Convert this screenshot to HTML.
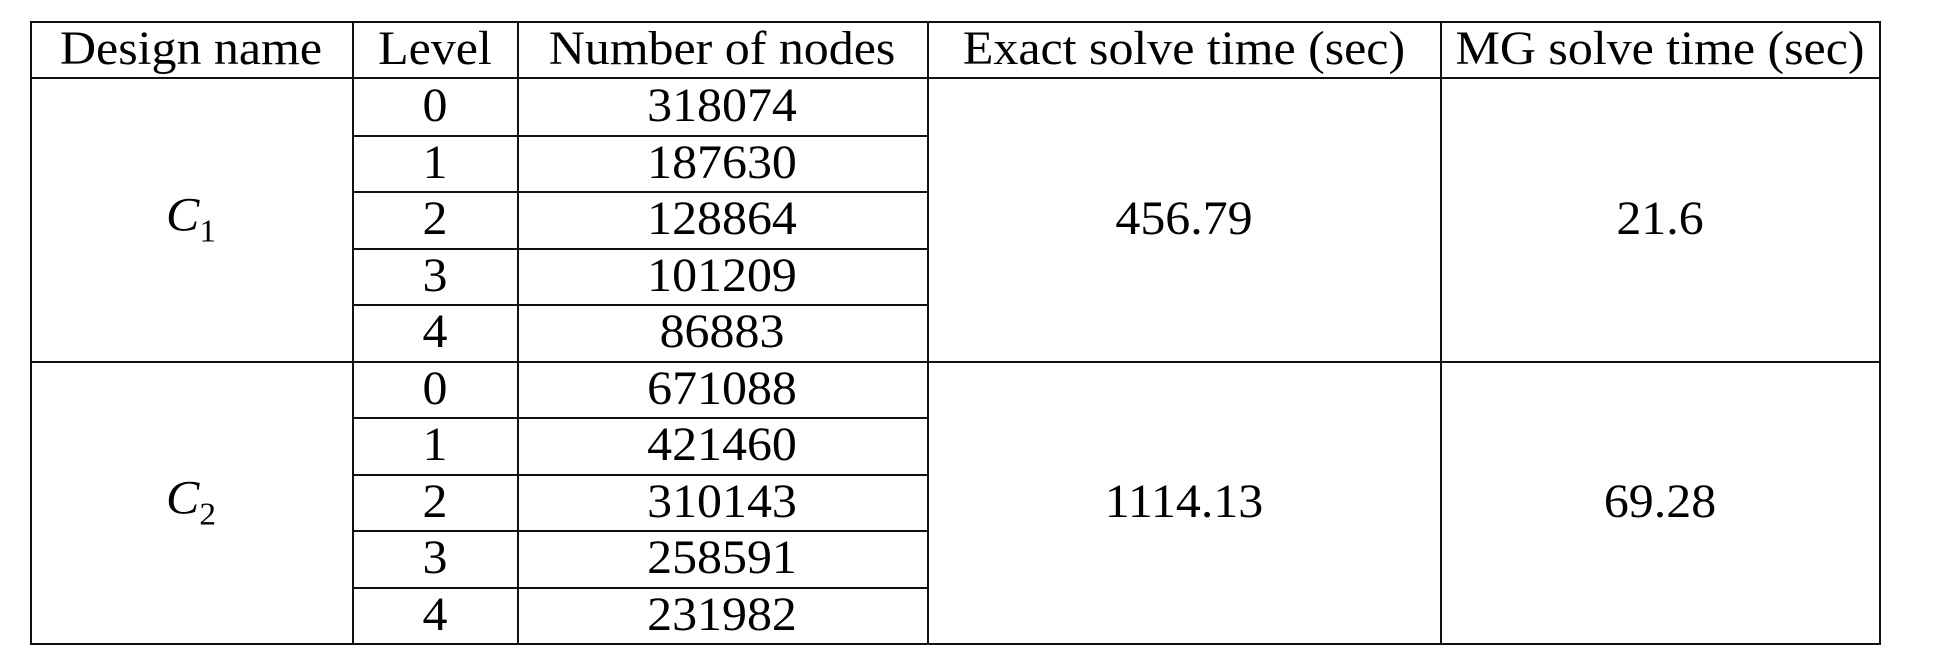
<!DOCTYPE html>
<html><head><meta charset="utf-8"><style>
body{margin:0;width:1938px;height:668px;background:#fff;position:relative;overflow:hidden;font-family:"Liberation Serif",serif;color:#000}
.l{position:absolute;background:#111}
.t{position:absolute;font-size:48px;text-align:center;line-height:1;transform:translate(-50%,-50%) scaleX(1.04);white-space:nowrap}
i sub{font-style:normal;font-size:32px}
</style></head><body>
<script>
const headers=["Design name","Level","Number of nodes","Exact solve time (sec)","MG solve time (sec)"];
const designs=["C","C"];
const designSubs=["1","2"];
const levels=[0,1,2,3,4];
const nodes=[[318074,187630,128864,101209,86883],[671088,421460,310143,258591,231982]];
const exactTimes=["456.79","1114.13"];
const mgTimes=["21.6","69.28"];
const colX=[30,352,517,927,1440,1879];
const tableTop=21,headBot=78,rowH=56.5;
const bodyEl=document.body;
function line(x,y,w,h,name){const d=document.createElement('div');d.className='l';d.style.left=x+'px';d.style.top=y+'px';d.style.width=w+'px';d.style.height=h+'px';


bodyEl.appendChild(d);}
function text(x,y,html,name){const d=document.createElement('div');d.className='t';d.style.left=x+'px';d.style.top=y+'px';d.innerHTML=html;


bodyEl.appendChild(d);}
const tableBottom=headBot+rowH*levels.length*designs.length;
line(colX[0],tableTop,colX[5]-colX[0]+2,2,'top-border');
line(colX[0],headBot-1,colX[5]-colX[0]+2,2,'header-rule');
colX.forEach((x,i)=>line(x,tableTop,2,tableBottom-tableTop+2,'column-rule-'+i));
headers.forEach((h,i)=>text((colX[i]+colX[i+1])/2,(tableTop+headBot)/2-1,h,'header-'+i));
designs.forEach((dn,g)=>{
  const g0=headBot+g*levels.length*rowH;
  line(colX[0],g0+levels.length*rowH,colX[5]-colX[0]+2,2,'group-rule-'+g);
  const mid=g0+levels.length*rowH/2;
  text((colX[0]+colX[1])/2,mid,'<i>'+dn+'<sub>'+designSubs[g]+'</sub></i>','design-'+g);
  text((colX[3]+colX[4])/2,mid,exactTimes[g],'exact-time-'+g);
  text((colX[4]+colX[5])/2,mid,mgTimes[g],'mg-time-'+g);
  levels.forEach((lv,r)=>{
    const y=g0+r*rowH;
    if(r>0) line(colX[1],y,colX[3]-colX[1],2,'row-rule-'+g+'-'+r);
    text((colX[1]+colX[2])/2,y+rowH/2,String(lv),'level-'+g+'-'+r);
    text((colX[2]+colX[3])/2,y+rowH/2,String(nodes[g][r]),'nodes-'+g+'-'+r);
  });
});
</script>
</body></html>
